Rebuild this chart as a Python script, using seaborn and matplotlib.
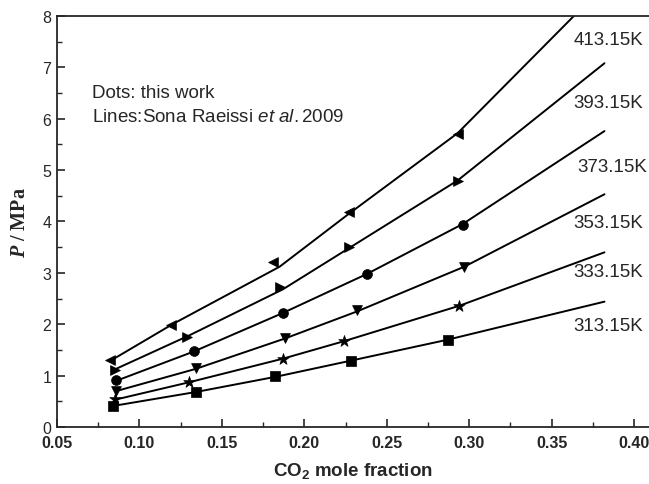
import pandas as pd
import matplotlib
matplotlib.use('Agg')
import matplotlib.pyplot as plt
import seaborn as sns
from matplotlib.ticker import MultipleLocator

# temperatures
temps = ['313.15K', '333.15K', '353.15K', '373.15K', '393.15K', '413.15K']
markers = ['s', '*', 'v', 'o', '>', '<']

# Dots: this work
dot_x = {
    '313.15K': [0.084, 0.134, 0.182, 0.228, 0.287],
    '333.15K': [0.085, 0.130, 0.187, 0.224, 0.294],
    '353.15K': [0.086, 0.134, 0.188, 0.232, 0.297],
    '373.15K': [0.086, 0.133, 0.187, 0.238, 0.296],
    '393.15K': [0.085, 0.129, 0.185, 0.227, 0.293],
    '413.15K': [0.082, 0.119, 0.181, 0.227, 0.293],
}
dot_p = {
    '313.15K': [0.40, 0.68, 0.99, 1.29, 1.70],
    '333.15K': [0.54, 0.88, 1.33, 1.68, 2.36],
    '353.15K': [0.71, 1.15, 1.74, 2.27, 3.11],
    '373.15K': [0.91, 1.48, 2.21, 2.98, 3.94],
    '393.15K': [1.10, 1.76, 2.72, 3.50, 4.79],
    '413.15K': [1.30, 1.98, 3.22, 4.18, 5.70],
}

# Lines: Sona Raeissi et al. 2009
line_x = {
    '313.15K': [0.084, 0.134, 0.183, 0.228, 0.287, 0.382],
    '333.15K': [0.085, 0.130, 0.187, 0.224, 0.294, 0.382],
    '353.15K': [0.086, 0.134, 0.188, 0.232, 0.297, 0.382],
    '373.15K': [0.086, 0.133, 0.187, 0.238, 0.296, 0.382],
    '393.15K': [0.085, 0.130, 0.187, 0.227, 0.293, 0.382],
    '413.15K': [0.083, 0.120, 0.185, 0.227, 0.293, 0.382],
}
line_p = {
    '313.15K': [0.41, 0.68, 0.98, 1.29, 1.70, 2.44],
    '333.15K': [0.53, 0.87, 1.33, 1.67, 2.36, 3.40],
    '353.15K': [0.70, 1.13, 1.72, 2.25, 3.12, 4.53],
    '373.15K': [0.90, 1.47, 2.22, 2.98, 3.95, 5.76],
    '393.15K': [1.12, 1.78, 2.68, 3.48, 4.80, 7.08],
    '413.15K': [1.30, 2.00, 3.12, 4.15, 5.72, 8.60],
}

dots = pd.DataFrame([(t, x, p) for t in temps for x, p in zip(dot_x[t], dot_p[t])],
                    columns=['T', 'x', 'P'])
lines = pd.DataFrame([(t, x, p) for t in temps for x, p in zip(line_x[t], line_p[t])],
                     columns=['T', 'x', 'P'])

sns.set_style('ticks')
plt.rcParams['font.family'] = ['Liberation Sans', 'DejaVu Sans']
plt.rcParams['mathtext.fontset'] = 'custom'
plt.rcParams['mathtext.rm'] = 'Liberation Sans'
plt.rcParams['mathtext.it'] = 'Liberation Sans:italic'
plt.rcParams['mathtext.bf'] = 'Liberation Sans:bold'
plt.rcParams['mathtext.bfit'] = 'Liberation Serif:italic:bold'

fig = plt.figure(figsize=(6.49, 4.85), dpi=100)
ax = fig.add_axes([0.0878, 0.1175, 0.9122, 0.8475])

sns.lineplot(data=lines, x='x', y='P', hue='T', palette=['black'] * 6,
             sort=True, linewidth=1.4, legend=False, ax=ax)
for t, m in zip(temps, markers):
    sub = dots[dots['T'] == t]
    sns.scatterplot(data=sub, x='x', y='P', marker=m, color='black',
                    s=75 if m == '*' else 50, edgecolor='black', linewidth=0.5,
                    legend=False, ax=ax, zorder=3)

ax.set_xlim(0.05, 0.409)
ax.set_ylim(0, 8)
ax.xaxis.set_minor_locator(MultipleLocator(0.025))
ax.yaxis.set_major_locator(MultipleLocator(1))
ax.yaxis.set_minor_locator(MultipleLocator(0.5))
ax.set_xticks([0.05, 0.10, 0.15, 0.20, 0.25, 0.30, 0.35, 0.40])
ax.set_xticklabels(['0.05', '0.10', '0.15', '0.20', '0.25', '0.30', '0.35', '0.40'],
                   fontweight='bold', fontsize=11.5)
ax.tick_params(axis='both', which='major', direction='in', length=6, width=1.2)
ax.tick_params(axis='both', which='minor', direction='in', length=3.5, width=1.0)
ax.tick_params(axis='y', labelsize=11.5, pad=4)
ax.tick_params(axis='x', pad=6)

for side in ['left', 'bottom', 'top']:
    ax.spines[side].set_linewidth(1.3)
    ax.spines[side].set_visible(True)
ax.spines['right'].set_visible(False)

ax.set_xlabel(r'CO$_\mathbf{2}$ mole fraction', fontsize=13.5, fontweight='bold', labelpad=7)
ax.set_ylabel(r'$\mathbfit{P}$ / MPa', fontsize=14.5, fontweight='bold',
              family='Liberation Serif', labelpad=9)

# temperature labels
label_y = [1.97, 3.02, 3.99, 5.08, 6.32, 7.55]
label_x = [0.363, 0.363, 0.363, 0.3655, 0.363, 0.363]
for t, lx, ly in zip(temps, label_x, label_y):
    ax.text(lx, ly, t, fontsize=13.5, ha='left', va='center')

ax.text(0.071, 6.52, 'Dots: this work', fontsize=13.5, ha='left', va='center')
ax.text(0.071, 6.05, r'Lines:Sona Raeissi $et\ al.$2009', fontsize=13.5,
        ha='left', va='center')

fig.savefig('out.png', dpi=100)
